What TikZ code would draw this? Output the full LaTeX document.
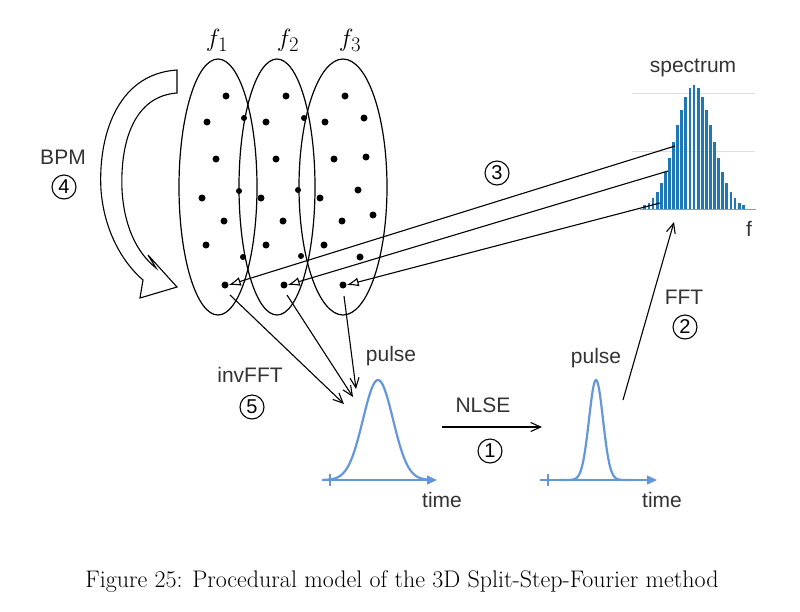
\documentclass[tikz,border=0pt]{standalone}
\usepackage{fontspec}
\newfontfamily\lsans{Liberation Sans}
\usetikzlibrary{arrows.meta}
\definecolor{pblue}{RGB}{100,150,220}
\definecolor{sblue}{RGB}{31,119,180}
\begin{document}
\begin{tikzpicture}[x=1pt,y=-1pt,
  lab/.style={font=\lsans\fontsize{21}{23}\selectfont, text=black!80},
  num/.style={circle,draw,line width=1.1pt,inner sep=0pt,minimum size=24pt,font=\lsans\fontsize{20}{22}\selectfont},
  dot/.style={circle,fill=black,inner sep=0pt,minimum size=7pt},
  ell/.style={draw,line width=1.2pt},
  ret/.style={line width=1.1pt,-{Latex[open,length=12pt,width=9pt]}},
  inv/.style={line width=1.1pt,-{Straight Barb[length=10pt,width=9pt]}}]
\useasboundingbox (0,0) rectangle (800,611);
% ellipses
\draw[ell] (218,187) ellipse[x radius=39,y radius=128];
\draw[ell] (277,187) ellipse[x radius=38,y radius=128];
\draw[ell] (343,187) ellipse[x radius=44,y radius=128];
\node[font=\fontsize{28}{30}\selectfont] at (217,40) {$f_1$};
\node[font=\fontsize{28}{30}\selectfont] at (288,40) {$f_2$};
\node[font=\fontsize{28}{30}\selectfont] at (350,40) {$f_3$};
% dots
\foreach \p in {(226,96),(207,122),(216,159),(202,198),(224,221),(206,245),(286,96),(266,122),(276,159),(261,198),(283,221),(266,245),(345,96),(325,122),(334,159),(320,198),(342,221),(324,245),(364,118),(366,157),(358,190),(373,215),(360,257)}
  \node[dot] at \p {};
\foreach \p in {(244,118),(239,191),(243,257),(304,118),(298,190),(301,256)}
  \node[dot,minimum size=6pt] at \p {};
\node[dot] (a1) at (225,285) {};
\node[dot] (a2) at (284,285) {};
\node[dot] (a3) at (343,285) {};
% BPM hollow arrow
\draw[line width=1.1pt,fill=white,line join=miter] (177,70) .. controls (115,74) and (98,140) .. (101,190) .. controls (104,230) and (122,262) .. (143,280) -- (140,298) -- (177,287) -- (148,255) -- (156,268) .. controls (136,252) and (124,225) .. (122,190) .. controls (120,140) and (135,96) .. (177,93) -- cycle;
\node[lab] at (63,157) {BPM};
\node[num] at (64,187) {4};
% spectrum
\draw[black!12] (632,93) -- (755,93) (632,151) -- (755,151);
\foreach \i in {-12,...,12}{
  \pgfmathsetmacro{\h}{124*exp(-((\i*4.1)/18.5)^2/2)}
  \fill[sblue] ({694+\i*4.1-1.4},209) rectangle ({694+\i*4.1+1.4},{209-\h});
}
\draw[black!40] (640,209) -- (756,209);
\node[lab] at (693,68) {spectrum};
\node[lab] at (749,229) {f};
\coordinate (s1) at (675,146);
\coordinate (s2) at (668,171);
\coordinate (s3) at (660,203);
\draw[ret] (s1) -- (a1.east);
\draw[ret] (s2) -- (a2.east);
\draw[ret] (s3) -- (a3.east);
\node[num] at (497,173) {3};
% pulses
\coordinate (p1) at (344,404);
\coordinate (p2) at (353,397);
\coordinate (p3) at (356,389);
\draw[inv] (a1) ++(5,10) -- (p1);
\draw[inv] (a2) ++(3,10) -- (p2);
\draw[inv] (a3) ++(1,11) -- (p3);
\node[lab] at (250,375) {invFFT};
\node[num] at (252,407) {5};
\draw[black!80,line width=1pt] (330,480) -- (430,480);
\draw[pblue,line width=1.4pt,-{Triangle[length=10pt,width=9pt]}] (322,480) -- (437,480);
\draw[pblue,line width=1.2pt] (330,474) -- (330,486);
\draw[pblue,line width=2.2pt] plot[domain=322:430,samples=80] (\x,{480-100*exp(-((\x-378)/15)^2/2)});
\draw[black!80,line width=1pt] (548,480) -- (650,480);
\draw[pblue,line width=1.4pt,-{Triangle[length=10pt,width=9pt]}] (540,480) -- (657,480);
\draw[pblue,line width=1.2pt] (548,474) -- (548,486);
\draw[pblue,line width=2.2pt] plot[domain=560:632,samples=80] (\x,{480-100*exp(-((\x-596)/7)^2/2)});
\node[lab] at (391,356) {pulse};
\node[lab] at (596,358) {pulse};
\node[lab] at (442,500) {time};
\node[lab] at (662,500) {time};
% NLSE
\coordinate (n1) at (442,427);
\coordinate (n2) at (542,427);
\draw[inv] (n1) -- (n2);
\node[lab] at (483,405) {NLSE};
\node[num] at (490,451) {1};
% FFT
\coordinate (ff1) at (623,400);
\coordinate (ff2) at (674,222);
\draw[inv] (ff1) -- (ff2);
\node[lab] at (684,297) {FFT};
\node[num] at (685,327) {2};
% caption
\node[font=\fontsize{24}{28}\selectfont] at (402,582) {Figure 25: Procedural model of the 3D Split-Step-Fourier method};
\end{tikzpicture}
\end{document}
